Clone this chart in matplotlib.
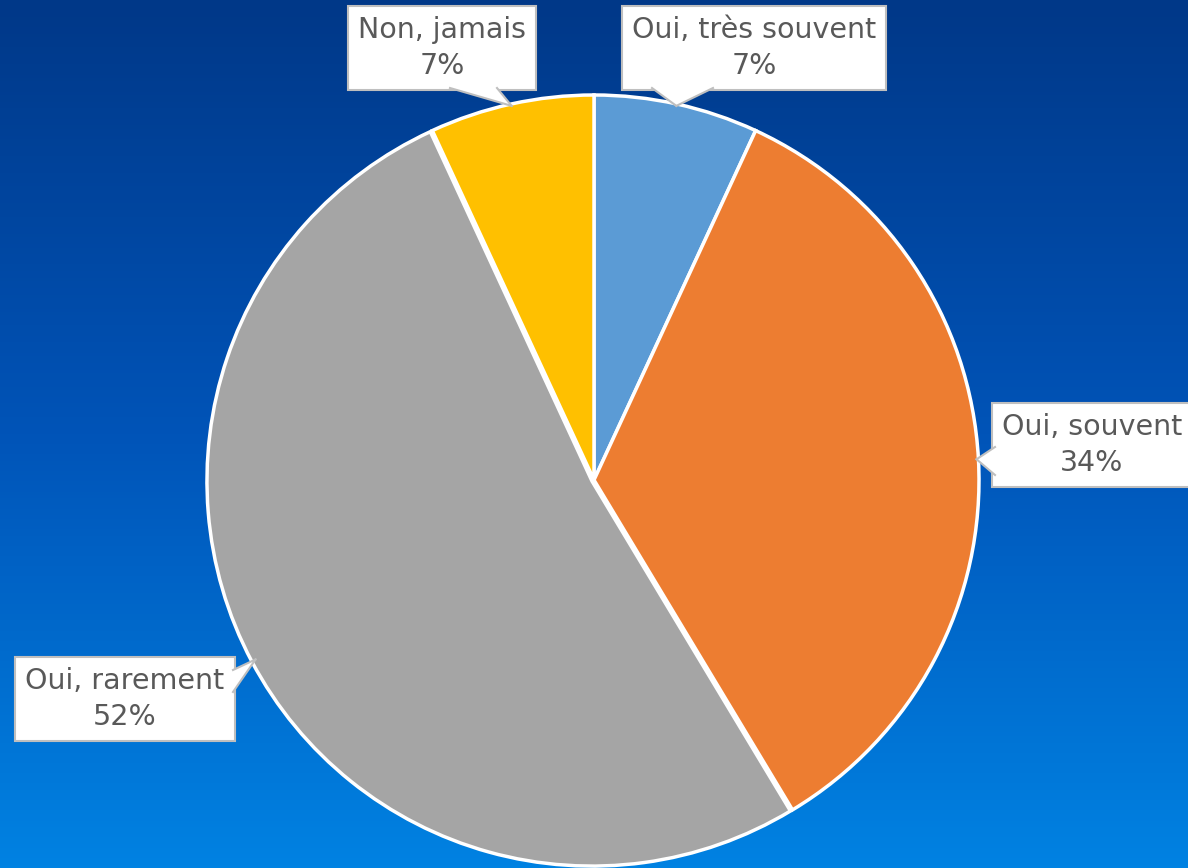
import numpy as np
import matplotlib
matplotlib.use("Agg")
import matplotlib.pyplot as plt
from matplotlib.colors import LinearSegmentedColormap
from matplotlib.patches import Polygon
from matplotlib.lines import Line2D

# ------------------------------------------------------------
# Data (answer counts)
# ------------------------------------------------------------
labels = ["Oui, très souvent", "Oui, souvent", "Oui, rarement", "Non, jamais"]
counts = [2, 10, 15, 2]
colors = ["#5B9BD5", "#ED7D31", "#A5A5A5", "#FFC000"]

# ------------------------------------------------------------
# Layout (pixels, origin top-left)
# ------------------------------------------------------------
W, H = 1188, 868
label_pos = [(754, 48), (1092, 445), (125, 699), (442, 48)]
# two points where each callout tail leaves its box
tail_base = [((652, 88), (713, 88)),
             ((995, 447), (995, 475)),
             ((233, 670), (233, 692)),
             ((450, 88), (497, 88))]

plt.rcParams["font.family"] = ["DejaVu Sans"]

fig = plt.figure(figsize=(W / 100, H / 100), dpi=100)

# ---- gradient background ----
bg = fig.add_axes([0, 0, 1, 1])
grad = np.linspace(0, 1, 256).reshape(-1, 1)
cmap = LinearSegmentedColormap.from_list("bg", ["#003888", "#0054B8", "#0082E2"])
bg.imshow(grad, aspect="auto", cmap=cmap, extent=[0, 1, 0, 1], origin="upper")
bg.axis("off")

# ---- pie ----
cx, cy, r = 594, H - 480, 385
ax = fig.add_axes([(cx - r) / W, (cy - r) / H, 2 * r / W, 2 * r / H])
wedges, _ = ax.pie(counts, colors=colors, startangle=90, counterclock=False,
                   explode=[0, 0, 0.006, 0],
                   wedgeprops=dict(edgecolor="white", linewidth=2.5))
for w in wedges:
    w.set_clip_on(False)
ax.set_xlim(-1, 1)
ax.set_ylim(-1, 1)
ax.set_aspect("equal")
ax.axis("off")


def fig_xy(px, py):
    """top-left pixel coords -> figure fraction"""
    return px / W, (H - py) / H


total = sum(counts)
for w, lab, n, pos, base in zip(wedges, labels, counts, label_pos, tail_base):
    # callout box
    fig.text(*fig_xy(*pos), f"{lab}\n{round(100 * n / total)}%",
             ha="center", va="center", multialignment="center",
             fontsize=20.5, color="#595959", linespacing=1.4, zorder=5,
             bbox=dict(boxstyle="square,pad=0.35", fc="white", ec="#BFBFBF", lw=1.5))
    # tail pointing at the slice middle on the pie edge
    mid = np.deg2rad((w.theta1 + w.theta2) / 2)
    tx, ty = ax.transData.transform((0.995 * np.cos(mid), 0.995 * np.sin(mid)))
    tip = (tx / W, ty / H)
    p1, p2 = fig_xy(*base[0]), fig_xy(*base[1])
    fig.patches.append(Polygon([p1, tip, p2], closed=True, fc="white", ec="none",
                               transform=fig.transFigure, zorder=6))
    for p in (p1, p2):
        fig.lines.append(Line2D([p[0], tip[0]], [p[1], tip[1]], color="#BFBFBF",
                                lw=1.5, transform=fig.transFigure, zorder=7))

fig.savefig("out.png", dpi=100)
